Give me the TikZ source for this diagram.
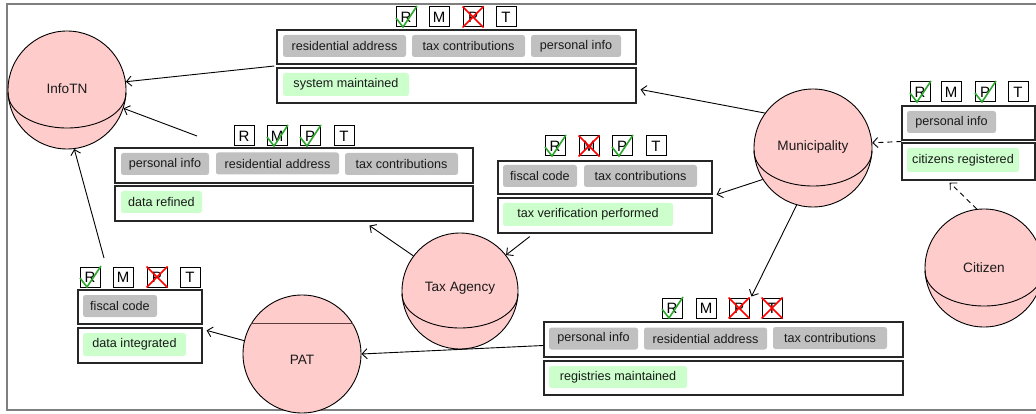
\documentclass[tikz,border=0pt]{standalone}
\usepackage{fontspec}
\setmainfont{Liberation Sans}
\usetikzlibrary{arrows.meta,calc}
\definecolor{sph}{HTML}{FFCCCC}
\definecolor{chipgray}{HTML}{C0C0C0}
\definecolor{chipgreen}{HTML}{CCFFCC}
\definecolor{chkgreen}{HTML}{2EA82E}
\definecolor{framegray}{HTML}{7F7F7F}
\definecolor{txt}{HTML}{1A1A1A}
\definecolor{chord}{HTML}{5A3A3A}
\tikzset{
 obox/.style={draw=black!85, line width=1.2pt, fill=white, inner sep=0pt},
 chip/.style={fill=chipgray, rounded corners=2.5pt, inner sep=0pt, minimum height=22pt, font=\fontsize{12.6}{14}\selectfont, text=txt},
 gchip/.style={chip, fill=chipgreen},
 lbox/.style={draw=black, line width=1pt, fill=white, minimum size=20pt, inner sep=0pt, font=\fontsize{15}{16}\selectfont},
 sphere/.style={circle, draw=black, line width=0.9pt, fill=sph, inner sep=0pt, text=txt, font=\fontsize{13.6}{15}\selectfont},
 okmark/.style={draw=chkgreen, line width=1.6pt},
 nomark/.style={draw=red, line width=1.6pt},
 conn/.style={draw=black, line width=0.9pt, -{Straight Barb[length=5pt,width=10pt]}},
 dconn/.style={conn, dash pattern=on 5pt off 4pt},
}
\newcommand{\markok}[1]{\draw[okmark] ([shift={(-10pt,-1pt)}]#1.center) -- ([shift={(-3pt,-10pt)}]#1.center) -- ([shift={(11pt,11pt)}]#1.center);}
\newcommand{\markno}[1]{\draw[nomark] ([shift={(-10.5pt,10.5pt)}]#1.center) -- ([shift={(10.5pt,-10.5pt)}]#1.center) ([shift={(-10.5pt,-10.5pt)}]#1.center) -- ([shift={(10.5pt,10.5pt)}]#1.center);}
\newcommand{\equator}[4]{\draw[line width=0.9pt] ($(#1.center)+(-#2,3)$) arc[start angle=180,end angle=360,x radius=#2pt,y radius=#3pt];}
\begin{document}
\begin{tikzpicture}[x=1pt,y=-1pt]
\useasboundingbox (0,0) rectangle (1036,414);
\draw[framegray, line width=1.5pt] (7,4) rectangle (1050,410);

% ---------- spheres
\node[sphere, minimum size=118pt] (infotn) at (67,90) {};
\node[text=txt, font=\fontsize{13.6}{15}\selectfont] (infotnlbl) at (67,89) {InfoTN};
\equator{infotn}{59}{35}{}
\node[sphere, minimum size=118pt] (muni) at (813,148) {};
\node[text=txt, font=\fontsize{13.6}{15}\selectfont] (munilbl) at (813,147) {Municipality};
\equator{muni}{59}{35}{}
\node[sphere, minimum size=116pt] (tax) at (460,291) {};
\node[text=txt, font=\fontsize{13.6}{15}\selectfont] (taxlbl) at (460,288) {Tax Agency};
\equator{tax}{58}{34}{}
\node[sphere, minimum size=118pt] (citizen) at (984,268) {};
\node[text=txt, font=\fontsize{13.6}{15}\selectfont] (citizenlbl) at (984,268) {Citizen};
\equator{citizen}{59}{35}{}
\node[sphere, minimum size=118pt] (pat) at (302,354) {};
\node[text=txt, font=\fontsize{13.6}{15}\selectfont] (patlbl) at (302,360) {PAT};
\draw[chord, line width=1.6pt] (pat.149) -- (pat.31);

% ---------- group 1
\node[obox, minimum width=359pt, minimum height=34pt] (g1a) at (456.5,47) {};
\node[obox, minimum width=359pt, minimum height=35pt] (g1b) at (456.5,85.5) {};
\node[chip, minimum width=123pt] (g1c1) at (344.5,46) {residential address};
\node[chip, minimum width=113pt] (g1c2) at (468.5,46) {tax contributions};
\node[chip, minimum width=90pt] (g1c3) at (576,46) {personal info};
\node[gchip, minimum width=126pt, minimum height=23pt] (g1s) at (346,84.5) {system maintained};
\node[lbox] (g1r) at (406,17) {R};
\node[lbox] (g1m) at (439,17) {M};
\node[lbox] (g1p) at (473,17) {P};
\node[lbox] (g1t) at (506,17) {T};
\markok{g1r}\markno{g1p}

% ---------- group 2
\node[obox, minimum width=358pt, minimum height=35pt] (g2a) at (294,165.5) {};
\node[obox, minimum width=358pt, minimum height=35pt] (g2b) at (294,203.5) {};
\node[chip, minimum width=88pt] (g2c1) at (165,164) {personal info};
\node[chip, minimum width=123pt] (g2c2) at (277.5,163.5) {residential address};
\node[chip, minimum width=113pt] (g2c3) at (401.5,164) {tax contributions};
\node[gchip, minimum width=81pt] (g2s) at (161.5,202) {data refined};
\node[lbox] (g2r) at (244,136) {R};
\node[lbox] (g2m) at (277,136) {M};
\node[lbox] (g2p) at (310,136) {P};
\node[lbox] (g2t) at (344,136) {T};
\markok{g2m}\markok{g2p}

% ---------- group 3
\node[obox, minimum width=214pt, minimum height=33pt] (g3a) at (605,177.5) {};
\node[obox, minimum width=214pt, minimum height=35pt] (g3b) at (605,215.5) {};
\node[chip, minimum width=74pt] (g3c1) at (540,176) {fiscal code};
\node[chip, minimum width=113pt] (g3c2) at (640.5,176) {tax contributions};
\node[gchip, minimum width=170pt, minimum height=23pt] (g3s) at (588,214.5) {tax verification performed};
\node[lbox] (g3r) at (555,146) {R};
\node[lbox] (g3m) at (589,146) {M};
\node[lbox] (g3p) at (622,146) {P};
\node[lbox] (g3t) at (656,146) {T};
\markok{g3r}\markno{g3m}\markok{g3p}

% ---------- group 4
\node[obox, minimum width=124pt, minimum height=34pt] (g4a) at (140,307) {};
\node[obox, minimum width=124pt, minimum height=35pt] (g4b) at (140,345.5) {};
\node[chip, minimum width=74pt] (g4c1) at (120,306) {fiscal code};
\node[gchip, minimum width=103pt, minimum height=23pt] (g4s) at (134.5,344.5) {data integrated};
\node[lbox] (g4r) at (90,277) {R};
\node[lbox] (g4m) at (123,277) {M};
\node[lbox] (g4p) at (157,277) {P};
\node[lbox] (g4t) at (190,277) {T};
\markok{g4r}\markno{g4p}

% ---------- group 5
\node[obox, minimum width=359pt, minimum height=35pt] (g5a) at (723.5,339.5) {};
\node[obox, minimum width=359pt, minimum height=34pt] (g5b) at (723.5,378) {};
\node[chip, minimum width=89pt] (g5c1) at (593.5,338.5) {personal info};
\node[chip, minimum width=123pt] (g5c2) at (705.5,338.5) {residential address};
\node[chip, minimum width=114pt] (g5c3) at (830,338) {tax contributions};
\node[gchip, minimum width=138pt] (g5s) at (618,377) {registries maintained};
\node[lbox] (g5r) at (672,308) {R};
\node[lbox] (g5m) at (706,308) {M};
\node[lbox] (g5p) at (739,308) {P};
\node[lbox] (g5t) at (772,308) {T};
\markok{g5r}\markno{g5p}\markno{g5t}

% ---------- group 6
\node[obox, minimum width=133pt, minimum height=34pt] (g6a) at (968.5,123) {};
\node[obox, minimum width=133pt, minimum height=37pt] (g6b) at (968.5,161.5) {};
\node[chip, minimum width=89pt] (g6c1) at (951.5,122) {personal info};
\node[gchip, minimum width=112pt, minimum height=24pt] (g6s) at (963,160) {citizens registered};
\node[lbox] (g6r) at (920,92) {R};
\node[lbox] (g6m) at (951,92) {M};
\node[lbox] (g6p) at (985,92) {P};
\node[lbox] (g6t) at (1018,92) {T};
\markok{g6r}\markok{g6p}

% ---------- connector end points
\coordinate (s1) at ($(g1a.south west)!0.5!(g1b.north west)+(-2,0)$);
\coordinate (s2) at (197,136);
\coordinate (s3) at (104,258);
\coordinate (t7) at ($(g2b.south west)!0.71!(g2b.south east)+(0,4)$);
\coordinate (s8) at ($(g3b.south west)!0.15!(g3b.south east)+(0,3)$);
\coordinate (t10) at ($(g4b.north east)+(4,3)$);
\coordinate (t11) at ($(g6b.south west)!0.36!(g6b.south east)+(0,2)$);
\coordinate (s12) at ($(g6a.south west)!0.5!(g6b.north west)$);

% ---------- connectors
\draw[conn] (s1) -- (infotn.8);
\draw[conn] (s2) -- (infotn.-18);
\draw[conn] (s3) -- (infotn.-83);
\draw[conn] (muni.144) -- ([shift={(4pt,-4pt)}]g1b.east);
\draw[conn] (muni.212) -- ([xshift=4pt]g3a.south east);
\draw[conn] (muni.254) -- ([shift={(2pt,1pt)}]g5p.north east);
\draw[conn] (tax.143) -- (t7);
\draw[conn] (s8) -- (tax.38);
\draw[conn] ([yshift=-6pt]g5a.west) -- (pat.east);
\draw[conn] (pat.167) -- (t10);
\draw[dconn] (citizen.97) -- (t11);
\draw[dconn] (s12) -- (muni.5);
\end{tikzpicture}
\end{document}
